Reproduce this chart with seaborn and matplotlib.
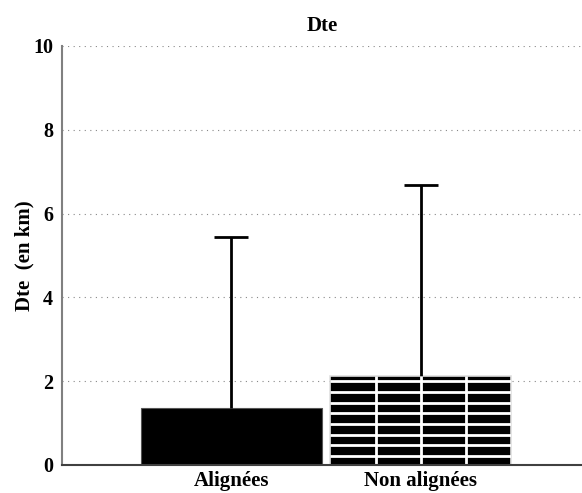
import numpy as np
import pandas as pd
import matplotlib
matplotlib.use("Agg")
import matplotlib.pyplot as plt
import seaborn as sns

categories = ["Alignées", "Non alignées"]
means = [1.36, 2.12]
err_upper = [4.08, 4.56]
yticks = [0, 2, 4, 6, 8, 10]

sns.set_theme(style="white")
plt.rcParams["font.family"] = ["Liberation Serif", "DejaVu Serif"]
plt.rcParams["font.weight"] = "bold"
plt.rcParams["text.color"] = "black"
plt.rcParams["axes.labelcolor"] = "black"
plt.rcParams["xtick.color"] = "black"
plt.rcParams["ytick.color"] = "black"

df = pd.DataFrame({"cat": categories, "val": means})

fig = plt.figure(figsize=(5.82, 4.93), dpi=100)
ax = fig.add_axes([62 / 582, 1 - 465 / 493, 520 / 582, (465 - 46) / 493])

sns.barplot(data=df, x="cat", y="val", ax=ax, errorbar=None,
            width=0.955, color="black", saturation=1)

bars = ax.patches
bars[0].set_facecolor("black")
bars[0].set_edgecolor("#555555")
bars[0].set_linewidth(0.8)
bars[1].set_facecolor("black")
bars[1].set_edgecolor("#e0e0e0")
bars[1].set_linewidth(1.2)

# brick-like white hatching on the second bar, derived from its geometry
b = bars[1]
bx, bw, bh = b.get_x(), b.get_width(), b.get_height()
ylines = np.arange(bh - 0.12, 0.05, -0.2546)
hl = ax.hlines(ylines, bx, bx + bw, colors="white", linewidth=2.0, zorder=b.get_zorder() + 0.1)
hl.set_clip_path(b)
vl = ax.vlines([bx + bw * k / 4 for k in (1, 2, 3)], 0, bh, colors="white",
               linewidth=2.0, zorder=b.get_zorder() + 0.1)
vl.set_clip_path(b)

xpos = np.arange(len(categories))
eb = ax.errorbar(xpos, means, yerr=[np.zeros(len(means)), err_upper], fmt="none",
                 ecolor="black", elinewidth=2, capsize=11.9, capthick=2, zorder=1)
caps = eb.lines[1]
if len(caps) == 2:
    caps[0].set_visible(False)

ax.set_xlim(-0.894, 1.85)
ax.set_ylim(0, 10)
ax.set_yticks(yticks)
ax.set_yticklabels([str(t) for t in yticks], fontsize=14.5, fontweight="bold")
ax.set_xticks(xpos)
ax.set_xticklabels(categories, fontsize=15, fontweight="bold")
ax.tick_params(axis="y", length=0, pad=6.5)
ax.tick_params(axis="x", length=0, pad=4)

ax.yaxis.grid(True, linestyle=(0, (1, 4)), color="#888888", linewidth=0.8)
ax.xaxis.grid(False)
ax.set_axisbelow(True)

for s in ["top", "right"]:
    ax.spines[s].set_visible(False)
ax.spines["left"].set_color("#808080")
ax.spines["left"].set_linewidth(1.5)
ax.spines["bottom"].set_color("#404040")
ax.spines["bottom"].set_linewidth(1.5)

ax.set_xlabel("")
ax.set_ylabel("Dte  (en km)", fontsize=15, fontweight="bold", labelpad=-1)
ax.set_title("Dte", fontsize=15, fontweight="bold", pad=11)

fig.savefig("out.png", dpi=100)
